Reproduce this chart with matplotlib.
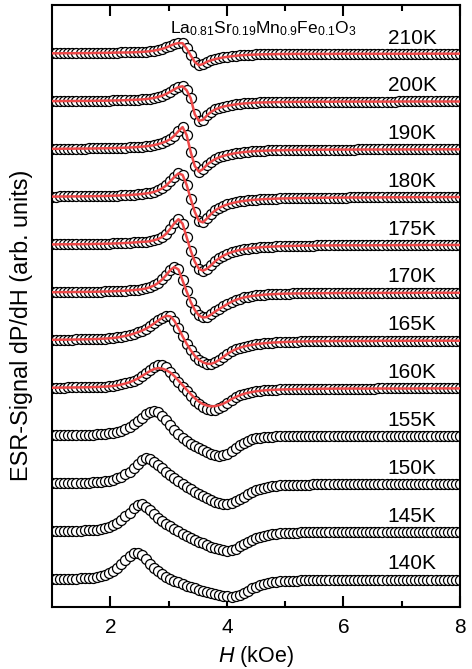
import numpy as np
import matplotlib
matplotlib.use("Agg")
import matplotlib.pyplot as plt

plt.rcParams['font.family'] = ['Liberation Sans', 'DejaVu Sans']
plt.rcParams['mathtext.fontset'] = 'custom'
plt.rcParams['mathtext.rm'] = 'Liberation Sans'
plt.rcParams['mathtext.it'] = 'Liberation Sans:italic'

# field sweep, kOe
field = np.linspace(1.0, 8.0, 101)

temps = [140, 145, 150, 155, 160, 165, 170, 175, 180, 190, 200, 210]
fit_temps = [160, 165, 170, 175, 180, 190, 200, 210]

# dP/dH at each field point (arb. units)
sig_140 = [0.3, 0.4, 0.4, 0.5, 0.6, 0.7, 0.8, 1.0, 1.1, 1.4,
           1.7, 2.3, 3.2, 4.5, 6.3, 8.8, 11.8, 15.3, 19.5, 23.5,
           26.0, 26.5, 24.0, 20.0, 15.5, 11.5, 8.0, 5.0, 2.5, 0.5,
           -1.3, -3.0, -4.6, -6.2, -7.6, -9.0, -10.3, -11.5, -12.6, -13.6,
           -14.6, -15.5, -16.3, -17.0, -17.3, -16.8, -15.5, -13.5, -11.2, -9.0,
           -7.2, -5.7, -4.5, -3.6, -2.9, -2.4, -2.0, -1.7, -1.5, -1.3,
           -1.2, -1.1, -1.0, -0.9, -0.9, -0.8, -0.8, -0.7, -0.7, -0.7,
           -0.6, -0.6, -0.6, -0.6, -0.6, -0.6, -0.6, -0.6, -0.6, -0.6,
           -0.5, -0.5, -0.5, -0.5, -0.5, -0.5, -0.5, -0.5, -0.5, -0.5,
           -0.5, -0.5, -0.5, -0.5, -0.5, -0.5, -0.5, -0.5, -0.5, -0.5, -0.5]
sig_145 = [0.3, 0.4, 0.4, 0.5, 0.6, 0.7, 0.8, 1.0, 1.1, 1.3,
           1.6, 2.0, 2.7, 3.7, 5.0, 6.8, 9.0, 11.8, 15.2, 19.0,
           23.0, 26.5, 27.0, 24.5, 21.0, 17.5, 14.0, 11.0, 8.0, 5.5,
           3.0, 0.5, -2.0, -4.0, -6.0, -8.0, -10.0, -11.8, -13.5, -15.0,
           -16.5, -17.6, -18.5, -19.0, -18.5, -17.0, -14.8, -12.5, -10.2, -8.2,
           -6.5, -5.1, -4.0, -3.2, -2.6, -2.1, -1.8, -1.5, -1.3, -1.1,
           -1.0, -0.9, -0.9, -0.8, -0.8, -0.7, -0.7, -0.6, -0.6, -0.6,
           -0.5, -0.5, -0.5, -0.5, -0.5, -0.5, -0.5, -0.5, -0.5, -0.5,
           -0.4, -0.4, -0.4, -0.4, -0.4, -0.4, -0.4, -0.4, -0.4, -0.4,
           -0.4, -0.4, -0.4, -0.4, -0.4, -0.4, -0.4, -0.4, -0.4, -0.4, -0.4]
sig_150 = [0.4, 0.4, 0.5, 0.5, 0.6, 0.7, 0.8, 0.9, 1.0, 1.1,
           1.3, 1.5, 1.8, 2.3, 3.0, 4.0, 5.3, 7.0, 9.3, 12.0,
           15.5, 19.5, 23.5, 25.8, 25.0, 22.0, 19.0, 15.5, 12.0, 8.5,
           5.5, 2.5, -0.5, -3.0, -5.5, -8.0, -10.5, -12.5, -14.5, -16.5,
           -18.0, -19.3, -20.3, -20.5, -19.5, -17.5, -15.5, -13.0, -10.5, -8.5,
           -6.8, -5.3, -4.2, -3.3, -2.6, -2.1, -1.8, -1.5, -1.3, -1.2,
           -1.1, -1.0, -0.9, -0.9, -0.8, -0.8, -0.7, -0.7, -0.6, -0.6,
           -0.5, -0.5, -0.5, -0.5, -0.5, -0.5, -0.5, -0.5, -0.5, -0.5,
           -0.4, -0.4, -0.4, -0.4, -0.4, -0.4, -0.4, -0.4, -0.4, -0.4,
           -0.3, -0.3, -0.3, -0.3, -0.3, -0.3, -0.3, -0.3, -0.3, -0.3, -0.3]
sig_155 = [0.4, 0.4, 0.5, 0.5, 0.6, 0.7, 0.7, 0.8, 0.9, 1.0,
           1.2, 1.4, 1.6, 2.0, 2.5, 3.2, 4.1, 5.3, 7.0, 9.0,
           11.5, 14.5, 18.0, 21.5, 24.0, 25.0, 23.5, 20.0, 15.5, 10.5,
           6.0, 2.0, -2.0, -5.0, -8.0, -10.5, -12.5, -14.5, -16.5, -18.0,
           -19.5, -20.0, -19.5, -18.0, -15.5, -12.5, -9.5, -7.0, -5.0, -3.5,
           -2.5, -1.8, -1.3, -1.0, -0.8, -0.6, -0.5, -0.4, -0.4, -0.3,
           -0.3, -0.3, -0.3, -0.3, -0.3, -0.3, -0.3, -0.3, -0.3, -0.3,
           -0.2, -0.2, -0.2, -0.2, -0.2, -0.2, -0.2, -0.2, -0.2, -0.2,
           -0.1, -0.1, -0.1, -0.1, -0.1, -0.1, -0.1, -0.1, -0.1, -0.1,
           -0.1, -0.1, -0.1, -0.1, -0.1, -0.1, -0.1, -0.1, -0.1, -0.1, -0.1]
sig_160 = [0.4, 0.4, 0.5, 0.5, 0.6, 0.6, 0.7, 0.7, 0.8, 0.9,
           1.0, 1.1, 1.3, 1.5, 1.8, 2.2, 2.8, 3.6, 4.6, 5.9,
           7.5, 9.5, 12.0, 15.0, 18.5, 21.5, 23.5, 23.5, 21.5, 16.5,
           11.5, 6.5, 1.5, -3.0, -8.0, -12.5, -16.0, -18.5, -20.5, -21.5,
           -21.5, -20.0, -17.5, -14.5, -11.5, -9.0, -7.2, -5.8, -4.7, -3.9,
           -3.2, -2.7, -2.3, -2.0, -1.8, -1.6, -1.4, -1.3, -1.2, -1.1,
           -1.0, -0.9, -0.9, -0.8, -0.8, -0.7, -0.7, -0.6, -0.6, -0.6,
           -0.5, -0.5, -0.5, -0.5, -0.5, -0.5, -0.5, -0.5, -0.5, -0.5,
           -0.4, -0.4, -0.4, -0.4, -0.4, -0.4, -0.4, -0.4, -0.4, -0.4,
           -0.3, -0.3, -0.3, -0.3, -0.3, -0.3, -0.3, -0.3, -0.3, -0.3, -0.3]
sig_165 = [0.5, 0.5, 0.6, 0.6, 0.7, 0.7, 0.8, 0.9, 1.0, 1.1,
           1.2, 1.3, 1.5, 1.7, 2.0, 2.3, 2.8, 3.6, 4.4, 5.4,
           6.6, 8.0, 9.6, 11.5, 14.0, 16.8, 19.8, 22.5, 24.5, 24.0,
           19.5, 12.0, 4.0, -3.5, -10.0, -15.5, -19.5, -22.0, -23.5, -23.5,
           -22.0, -19.5, -16.5, -13.5, -11.0, -9.0, -7.5, -6.3, -5.3, -4.5,
           -3.9, -3.4, -3.0, -2.6, -2.3, -2.1, -1.9, -1.7, -1.5, -1.4,
           -1.3, -1.2, -1.1, -1.0, -1.0, -0.9, -0.9, -0.8, -0.8, -0.7,
           -0.7, -0.7, -0.7, -0.7, -0.7, -0.7, -0.7, -0.7, -0.7, -0.7,
           -0.5, -0.5, -0.5, -0.5, -0.5, -0.5, -0.5, -0.5, -0.5, -0.5,
           -0.4, -0.4, -0.4, -0.4, -0.4, -0.4, -0.4, -0.4, -0.4, -0.4, -0.4]
sig_170 = [0.3, 0.3, 0.4, 0.4, 0.4, 0.5, 0.5, 0.6, 0.6, 0.7,
           0.7, 0.8, 0.9, 1.0, 1.1, 1.3, 1.4, 1.6, 1.8, 2.1,
           2.4, 2.8, 3.3, 4.0, 5.3, 7.0, 9.5, 13.0, 17.5, 22.5,
           25.5, 23.0, 12.0, 1.0, -9.5, -17.5, -23.0, -25.0, -24.5, -22.0,
           -19.0, -16.5, -14.0, -11.5, -9.3, -7.5, -6.1, -5.0, -4.2, -3.5,
           -3.0, -2.6, -2.2, -1.9, -1.7, -1.5, -1.3, -1.2, -1.1, -1.0,
           -0.9, -0.9, -0.8, -0.8, -0.7, -0.7, -0.7, -0.6, -0.6, -0.6,
           -0.5, -0.5, -0.5, -0.5, -0.5, -0.5, -0.5, -0.5, -0.5, -0.5,
           -0.4, -0.4, -0.4, -0.4, -0.4, -0.4, -0.4, -0.4, -0.4, -0.4,
           -0.3, -0.3, -0.3, -0.3, -0.3, -0.3, -0.3, -0.3, -0.3, -0.3, -0.3]
sig_175 = [0.3, 0.3, 0.4, 0.4, 0.4, 0.5, 0.5, 0.5, 0.6, 0.6,
           0.7, 0.8, 0.8, 0.9, 1.0, 1.2, 1.3, 1.5, 1.7, 1.9,
           2.2, 2.5, 2.9, 3.0, 3.5, 4.4, 5.7, 7.7, 11.0, 16.0,
           21.5, 25.5, 21.0, 7.5, -6.0, -17.0, -24.0, -26.0, -24.0, -20.5,
           -16.5, -13.5, -11.0, -9.0, -7.5, -6.3, -5.3, -4.5, -3.9, -3.4,
           -3.0, -2.6, -2.3, -2.1, -1.9, -1.7, -1.5, -1.4, -1.3, -1.2,
           -1.1, -1.0, -1.0, -0.9, -0.9, -0.8, -0.8, -0.7, -0.7, -0.7,
           -0.6, -0.6, -0.6, -0.6, -0.6, -0.6, -0.6, -0.6, -0.6, -0.6,
           -0.5, -0.5, -0.5, -0.5, -0.5, -0.4, -0.4, -0.4, -0.4, -0.4,
           -0.3, -0.3, -0.3, -0.3, -0.3, -0.3, -0.3, -0.3, -0.3, -0.3, -0.3]
sig_180 = [0.3, 0.3, 0.4, 0.4, 0.4, 0.5, 0.5, 0.5, 0.6, 0.6,
           0.7, 0.8, 0.8, 0.9, 1.0, 1.2, 1.3, 1.5, 1.7, 1.9,
           2.2, 2.5, 2.9, 3.4, 4.0, 5.0, 6.5, 8.5, 11.5, 15.5,
           20.0, 23.5, 22.0, 12.0, -2.0, -15.0, -24.0, -25.5, -21.5, -17.0,
           -13.5, -11.0, -9.0, -7.5, -6.3, -5.4, -4.6, -4.0, -3.5, -3.1,
           -2.8, -2.5, -2.2, -2.0, -1.9, -1.7, -1.6, -1.5, -1.4, -1.3,
           -1.2, -1.1, -1.1, -1.0, -1.0, -0.9, -0.9, -0.8, -0.8, -0.8,
           -0.7, -0.7, -0.7, -0.6, -0.6, -0.6, -0.6, -0.5, -0.5, -0.5,
           -0.5, -0.5, -0.4, -0.4, -0.4, -0.4, -0.4, -0.3, -0.3, -0.3,
           -0.3, -0.3, -0.3, -0.3, -0.3, -0.2, -0.2, -0.2, -0.2, -0.2, -0.2]
sig_190 = [0.3, 0.3, 0.3, 0.4, 0.4, 0.4, 0.5, 0.5, 0.5, 0.6,
           0.6, 0.7, 0.8, 0.8, 0.9, 1.0, 1.1, 1.3, 1.4, 1.6,
           1.8, 2.1, 2.4, 2.8, 3.3, 4.0, 5.0, 6.2, 7.8, 10.0,
           13.5, 18.0, 22.0, 14.0, -3.0, -17.0, -22.5, -20.0, -15.5, -12.5,
           -10.0, -8.2, -6.8, -5.7, -4.8, -4.1, -3.5, -3.0, -2.6, -2.3,
           -2.0, -1.8, -1.6, -1.4, -1.3, -1.2, -1.1, -1.0, -0.9, -0.9,
           -0.8, -0.8, -0.7, -0.7, -0.7, -0.6, -0.6, -0.6, -0.5, -0.5,
           -0.5, -0.5, -0.5, -0.5, -0.5, -0.4, -0.4, -0.4, -0.4, -0.4,
           -0.4, -0.4, -0.4, -0.4, -0.4, -0.3, -0.3, -0.3, -0.3, -0.3,
           -0.3, -0.3, -0.3, -0.3, -0.3, -0.2, -0.2, -0.2, -0.2, -0.2, -0.2]
sig_200 = [0.2, 0.2, 0.2, 0.3, 0.3, 0.3, 0.3, 0.4, 0.4, 0.4,
           0.5, 0.5, 0.6, 0.6, 0.7, 0.8, 0.9, 1.0, 1.1, 1.3,
           1.4, 1.6, 1.9, 2.2, 2.7, 3.4, 4.4, 5.6, 7.4, 9.6,
           12.0, 14.2, 15.0, 11.0, 3.0, -13.0, -19.5, -18.5, -14.0, -10.5,
           -8.2, -6.5, -5.3, -4.4, -3.7, -3.1, -2.6, -2.2, -1.9, -1.6,
           -1.4, -1.2, -1.1, -1.0, -0.9, -0.8, -0.7, -0.7, -0.6, -0.6,
           -0.5, -0.5, -0.5, -0.5, -0.5, -0.4, -0.4, -0.4, -0.4, -0.4,
           -0.3, -0.3, -0.3, -0.3, -0.3, -0.3, -0.3, -0.3, -0.3, -0.3,
           -0.3, -0.3, -0.3, -0.3, -0.3, -0.2, -0.2, -0.2, -0.2, -0.2,
           -0.2, -0.2, -0.2, -0.2, -0.2, -0.2, -0.2, -0.2, -0.2, -0.2, -0.2]
sig_210 = [0.2, 0.2, 0.2, 0.3, 0.3, 0.3, 0.3, 0.4, 0.4, 0.4,
           0.5, 0.5, 0.6, 0.6, 0.7, 0.8, 0.9, 1.0, 1.0, 1.1,
           1.2, 1.4, 1.6, 1.9, 2.3, 2.9, 3.7, 4.7, 6.0, 7.8,
           9.5, 10.4, 10.3, 5.0, -2.0, -8.5, -11.8, -10.5, -8.2, -6.8,
           -5.6, -4.7, -3.9, -3.3, -2.8, -2.3, -1.9, -1.6, -1.4, -1.2,
           -1.0, -0.9, -0.8, -0.7, -0.7, -0.6, -0.5, -0.5, -0.5, -0.4,
           -0.4, -0.4, -0.4, -0.4, -0.4, -0.4, -0.4, -0.4, -0.4, -0.4,
           -0.3, -0.3, -0.3, -0.3, -0.3, -0.3, -0.3, -0.3, -0.3, -0.3,
           -0.3, -0.3, -0.3, -0.3, -0.3, -0.3, -0.3, -0.3, -0.3, -0.3,
           -0.2, -0.2, -0.2, -0.2, -0.2, -0.2, -0.2, -0.2, -0.2, -0.2, -0.2]

# fitted line at 160 K (other fits lie on the points)
fit_160 = [0.4, 0.4, 0.5, 0.5, 0.6, 0.6, 0.7, 0.7, 0.8, 0.9,
           1.0, 1.1, 1.3, 1.5, 1.8, 2.2, 2.8, 3.6, 4.6, 5.9,
           7.5, 9.5, 12.0, 14.5, 17.0, 19.0, 20.0, 19.5, 18.0, 15.5,
           12.0, 7.5, 3.0, -1.5, -6.0, -10.0, -13.5, -16.0, -17.5, -18.3,
           -18.0, -17.0, -15.5, -13.5, -11.0, -9.0, -7.2, -5.8, -4.7, -3.9,
           -3.2, -2.7, -2.3, -2.0, -1.8, -1.6, -1.4, -1.3, -1.2, -1.1,
           -1.0, -0.9, -0.9, -0.8, -0.8, -0.7, -0.7, -0.6, -0.6, -0.6,
           -0.5, -0.5, -0.5, -0.5, -0.5, -0.5, -0.5, -0.5, -0.5, -0.5,
           -0.4, -0.4, -0.4, -0.4, -0.4, -0.4, -0.4, -0.4, -0.4, -0.4,
           -0.3, -0.3, -0.3, -0.3, -0.3, -0.3, -0.3, -0.3, -0.3, -0.3, -0.3]

signals = [sig_140, sig_145, sig_150, sig_155, sig_160, sig_165,
           sig_170, sig_175, sig_180, sig_190, sig_200, sig_210]
fits = {160: fit_160, 165: sig_165, 170: sig_170, 175: sig_175,
        180: sig_180, 190: sig_190, 200: sig_200, 210: sig_210}

step = 47.8  # vertical shift between spectra

fig = plt.figure(figsize=(4.72, 6.69), dpi=100)
ax = fig.add_axes([52 / 472, 62.3 / 669, 408 / 472, 601.7 / 669])

for i, (T, sig) in enumerate(zip(temps, signals)):
    off = i * step
    ax.plot(field, np.array(sig) + off, 'o', ms=7.2, mfc='white',
            mec='black', mew=0.9, zorder=2)
    if T in fit_temps:
        ax.plot(field, np.array(fits[T]) + off, '-', color='#ee4848',
                lw=1.8, zorder=3)
    ax.text(7.6, off + 6, f'{T}K', ha='right', va='bottom', fontsize=15)

ax.text(4.62, 11 * step + 20.3,
        r'La$_{0.81}$Sr$_{0.19}$Mn$_{0.9}$Fe$_{0.1}$O$_3$',
        ha='center', va='baseline', fontsize=12.5)

ax.set_xlim(1, 8)
ax.set_ylim(-27.4, 574.3)
ax.set_xticks([2, 4, 6, 8])
ax.set_xticks([3, 5, 7], minor=True)
ax.set_yticks([])
ax.tick_params(which='both', direction='in', top=True, width=1.5,
               labelsize=15, pad=8)
ax.tick_params(which='major', length=8)
ax.tick_params(which='minor', length=4.5)
for sp in ax.spines.values():
    sp.set_linewidth(1.5)

ax.set_xlabel(r'$H$ (kOe)', fontsize=15.5, labelpad=5)
fig.text(22 / 472, 1 - 325 / 669, 'ESR-Signal dP/dH (arb. units)',
         rotation=90, ha='center', va='center', fontsize=16.8)

fig.savefig('out.png', dpi=100)
